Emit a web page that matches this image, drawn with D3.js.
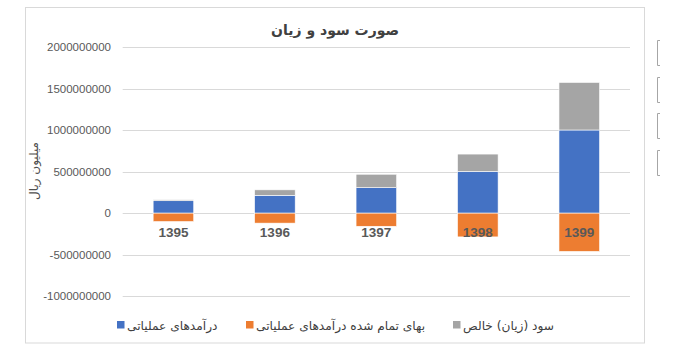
<!DOCTYPE html>
<html><head><meta charset="utf-8">
<script src="https://cdn.jsdelivr.net/npm/d3@7"></script>
<style>
html,body{margin:0;padding:0;background:#fff;}
svg{display:block;}
</style></head>
<body>
<svg id="chart" width="675" height="357"></svg>
<script>
const categories = ["1395", "1396", "1397", "1398", "1399"];
const revenue = [148e6, 213e6, 305e6, 500e6, 1000e6];
const cost = [-103e6, -122e6, -160e6, -288e6, -463e6];
const netProfit = [12e6, 66e6, 162e6, 210e6, 573e6];
const tickValues = [-1000000000, -500000000, 0, 500000000, 1000000000, 1500000000, 2000000000];
const seriesNames = ["درآمدهای عملیاتی", "بهای تمام شده درآمدهای عملیاتی", "سود (زیان) خالص"];
const seriesColors = ["#4472C4", "#ED7D31", "#A5A5A5"];
const title = "صورت سود و زیان";
const yTitle = "میلیون ریال";

const svg = d3.select("#chart");
const faFont = "'DejaVu Sans', sans-serif";
const numFont = "'Liberation Sans', Arial, sans-serif";

// chart frame
svg.append("rect").attr("x", 25.5).attr("y", 7.5).attr("width", 619).attr("height", 335.5)
  .attr("fill", "#fff").attr("stroke", "#d9d9d9").attr("stroke-width", 1);

// side decorations (Excel chart buttons)
[40, 77, 113, 150].forEach(y0 => {
  svg.append("path").attr("d", `M660,${y0 + 0.5}H657.5V${y0 + 25.5}H660`)
    .attr("fill", "none").attr("stroke", "#a6a6a6").attr("stroke-width", 1);
});

const x = d3.scaleBand().domain(categories).range([122.7, 630]).paddingInner(0.6).paddingOuter(0.3);
const y = d3.scaleLinear().domain([-1000000000, 2000000000]).range([296, 47]);

// gridlines
svg.append("g").selectAll("line").data(tickValues).join("line")
  .attr("x1", 122.7).attr("x2", 630)
  .attr("y1", d => Math.round(y(d)) + 0.5).attr("y2", d => Math.round(y(d)) + 0.5)
  .attr("stroke", "#d9d9d9").attr("stroke-width", 1);

// y axis labels
const yAxis = d3.axisLeft(y).tickValues(tickValues).tickFormat(d => String(d)).tickSize(0).tickPadding(0);
const gy = svg.append("g").attr("transform", "translate(111,0)").call(yAxis);
gy.select(".domain").remove();
gy.selectAll("text").attr("fill", "#595959").style("font-family", numFont).style("font-size", "11.5px");

// bars
const stackedPos = categories.map((c, i) => ({c, y0: 0, y1: revenue[i], color: seriesColors[0]}));
const stackedNeg = categories.map((c, i) => ({c, y0: 0, y1: cost[i], color: seriesColors[1]}));
const stackedNet = categories.map((c, i) => ({c, y0: revenue[i], y1: revenue[i] + netProfit[i], color: seriesColors[2]}));
const allBars = stackedNeg.concat(stackedPos, stackedNet);
svg.append("g").selectAll("rect").data(allBars).join("rect")
  .attr("x", d => x(d.c))
  .attr("width", x.bandwidth())
  .attr("y", d => y(Math.max(d.y0, d.y1)))
  .attr("height", d => Math.abs(y(d.y0) - y(d.y1)))
  .attr("fill", d => d.color)
  .attr("stroke", "#fff").attr("stroke-width", 0.6);

// category labels
svg.append("g").selectAll("text").data(categories).join("text")
  .attr("x", d => x(d) + x.bandwidth() / 2)
  .attr("y", 236.5)
  .attr("text-anchor", "middle")
  .attr("fill", "#595959")
  .style("font-family", numFont).style("font-size", "13.5px").style("font-weight", "bold")
  .text(d => d);

// title
svg.append("text").attr("x", 335).attr("y", 35).attr("text-anchor", "middle")
  .attr("fill", "#404040").style("font-family", faFont).style("font-size", "14px").style("font-weight", "bold")
  .attr("direction", "rtl")
  .text(title);

// y title
svg.append("text").attr("transform", "translate(38,171) rotate(-90)").attr("text-anchor", "middle")
  .attr("fill", "#505050").style("font-family", faFont).style("font-size", "12px")
  .attr("direction", "rtl")
  .text(yTitle);

// legend
const legendX = [117, 246, 453];
const lg = svg.append("g").selectAll("g").data(seriesNames).join("g")
  .attr("transform", (d, i) => `translate(${legendX[i]},321)`);
lg.append("rect").attr("width", 7.5).attr("height", 7.5).attr("fill", (d, i) => seriesColors[i]);
lg.append("text").attr("x", 10).attr("y", 8.5).attr("text-anchor", "start")
  .attr("fill", "#404040").style("font-family", faFont).style("font-size", "12.2px")
  .text(d => d);
</script>
</body></html>
